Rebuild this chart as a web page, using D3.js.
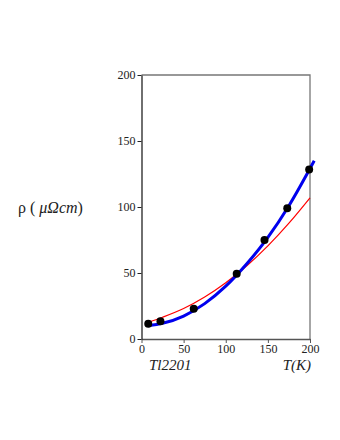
<!DOCTYPE html>
<html>
<head>
<meta charset="utf-8">
<script src="https://cdn.jsdelivr.net/npm/d3@7"></script>
<style>
  body { margin: 0; background: #fff; }
</style>
</head>
<body>
<div id="chart-area"></div>
<script>
// measured points (T in K, rho in micro-ohm cm)
const pointT = [8, 22.5, 62, 113, 146, 173, 199]
const pointRho = [11.5, 13.5, 23, 49.5, 75, 99, 128.5]

// blue fit curve
const blueT = [8, 25, 50, 75, 100, 125, 150, 175, 205]
const blueRho = [10, 11.9, 17.4, 26.8, 40, 57, 77, 101, 135]

// red fit curve
const redT = [8, 25, 50, 75, 100, 125, 150, 175, 200]
const redRho = [12.6, 16.5, 23.1, 31.8, 42.6, 55.5, 70.6, 87.8, 107]

const tickVals = [0, 50, 100, 150, 200]
const SERIF = '"Times New Roman", "Liberation Serif", "DejaVu Serif", serif'

const svg = d3.select("#chart-area").append("svg")
	.attr('width', 340)
	.attr('height', 440)
	.attr('font-family', SERIF)

const x = d3.scaleLinear()
	.domain([0, 200])
	.range([141.5, 310])

const y = d3.scaleLinear()
	.domain([0, 200])
	.range([339, 75])

// frame (top + right)
svg.append('path')
	.attr('d', `M${x(0)},${y(200)}H${x(200)}V${y(0)}`)
	.attr('fill', 'none')
	.attr('stroke', '#777')
	.attr('stroke-width', 1.3)

// x axis
const xAxis = svg.append('g')
	.attr('transform', `translate(0, ${y(0)})`)
	.call(d3.axisBottom(x).tickValues(tickVals).tickSize(4).tickSizeOuter(0).tickPadding(1))
	.attr('font-family', SERIF)
	.attr('font-size', 12)
xAxis.select('.domain').attr('stroke', '#555').attr('stroke-width', 1.3)
xAxis.selectAll('line').attr('stroke', '#555')
xAxis.selectAll('text').attr('fill', '#222')

// y axis
const yAxis = svg.append('g')
	.attr('transform', `translate(${x(0)}, 0)`)
	.call(d3.axisLeft(y).tickValues(tickVals).tickSize(4).tickSizeOuter(0).tickPadding(2))
	.attr('font-family', SERIF)
	.attr('font-size', 12)
yAxis.select('.domain').attr('stroke', '#222').attr('stroke-width', 1.3)
yAxis.selectAll('line').attr('stroke', '#222')
yAxis.selectAll('text').attr('fill', '#222')

const line = d3.line()
	.x(d => x(d[0]))
	.y(d => y(d[1]))
	.curve(d3.curveMonotoneX)

// red curve
svg.append('path')
	.datum(redT.map((t, i) => [t, redRho[i]]))
	.attr('d', line)
	.attr('fill', 'none')
	.attr('stroke', '#f00')
	.attr('stroke-width', 1.2)

// blue curve
svg.append('path')
	.datum(blueT.map((t, i) => [t, blueRho[i]]))
	.attr('d', line)
	.attr('fill', 'none')
	.attr('stroke', '#0000ee')
	.attr('stroke-width', 3)

// points
svg.selectAll('circle')
	.data(pointT.map((t, i) => [t, pointRho[i]]))
	.enter().append('circle')
	.attr('cx', d => x(d[0]))
	.attr('cy', d => y(d[1]))
	.attr('r', 4)
	.attr('fill', '#000')

// labels
svg.append('text')
	.attr('x', 149)
	.attr('y', 370)
	.attr('font-size', '15px')
	.attr('font-style', 'italic')
	.attr('fill', '#222')
	.text('Tl2201')

svg.append('text')
	.attr('x', 311)
	.attr('y', 370)
	.attr('font-size', '15px')
	.attr('font-style', 'italic')
	.attr('text-anchor', 'end')
	.attr('fill', '#222')
	.text('T(K)')

const ylab = svg.append('text')
	.attr('x', 18)
	.attr('y', 213)
	.attr('font-size', '16px')
	.attr('fill', '#222')
ylab.append('tspan').text('ρ ( ')
ylab.append('tspan').attr('font-style', 'italic').text('μΩcm')
ylab.append('tspan').text(')')
</script>
</body>
</html>
